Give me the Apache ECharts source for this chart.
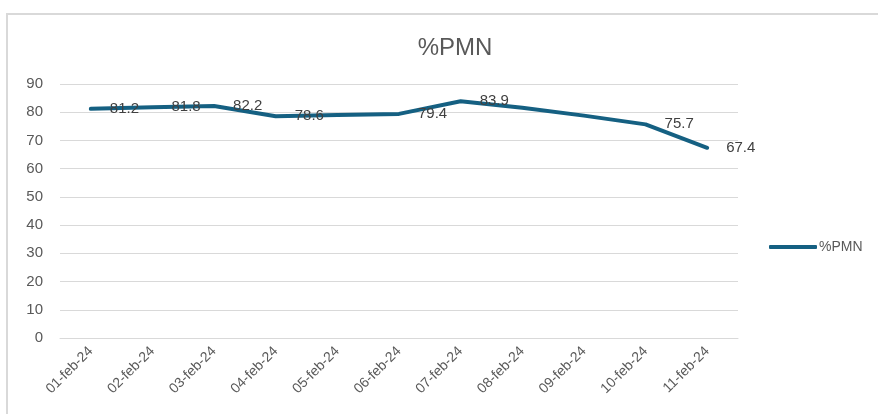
<!DOCTYPE html>
<html>
<head>
<meta charset="utf-8">
<title>%PMN</title>
<script src="https://cdn.jsdelivr.net/npm/echarts@6/dist/echarts.min.js"></script>
<style>
  body { margin: 0; background: #fff; }
  #frame {
    position: absolute; left: 6px; top: 13px; width: 900px; height: 420px;
    border-top: 2px solid #d9d9d9; border-left: 2px solid #d9d9d9;
  }
  #pmn { position: absolute; left: 0; top: 0; width: 878px; height: 414px; }
</style>
</head>
<body>
<div id="frame"></div>
<div id="pmn"></div>
<script type="text/javascript">
  // datos
  var dias = ['01-feb-24', '02-feb-24', '03-feb-24', '04-feb-24', '05-feb-24', '06-feb-24',
              '07-feb-24', '08-feb-24', '09-feb-24', '10-feb-24', '11-feb-24'];
  var pmn = [81.2, 81.8, 82.2, 78.6, 79.0, 79.4, 83.9, 81.6, 78.8, 75.7, 67.4];
  // puntos que llevan etiqueta en el original
  var conEtiqueta = [true, true, true, true, false, true, true, false, false, true, true];
  var yTicks = [0, 10, 20, 30, 40, 50, 60, 70, 80, 90];

  var fuente = '"Liberation Sans", Arial, sans-serif';
  var gris = '#595959';
  var azul = '#156082';

  var myChart = echarts.init(document.getElementById('pmn'));

  var serieData = pmn.map(function (v, i) {
    return { value: v, label: { show: conEtiqueta[i] } };
  });

  var option = {
    animation: false,
    textStyle: { fontFamily: fuente },
    title: {
      text: '%PMN',
      left: 450,
      top: 31,
      textAlign: 'center',
      textStyle: { fontFamily: fuente, fontSize: 24, fontWeight: 'normal', color: gris }
    },
    legend: {
      data: ['%PMN'],
      orient: 'vertical',
      left: 764,
      top: 235,
      icon: 'roundRect',
      itemWidth: 48,
      itemHeight: 4,
      itemGap: 5,
      textStyle: { fontFamily: fuente, fontSize: 14, color: gris, padding: [0, 0, 0, -3] }
    },
    grid: { left: 60, right: 140, top: 84, bottom: 76 },
    xAxis: {
      type: 'category',
      data: dias,
      boundaryGap: true,
      axisLine: { lineStyle: { color: '#d9d9d9', width: 1 } },
      axisTick: { show: false },
      axisLabel: {
        rotate: 45,
        margin: 11,
        interval: 0,
        fontFamily: fuente,
        fontSize: 14,
        color: gris
      }
    },
    yAxis: {
      type: 'value',
      min: yTicks[0],
      max: yTicks[yTicks.length - 1],
      interval: 10,
      axisLine: { show: false },
      axisTick: { show: false },
      splitLine: { lineStyle: { color: '#d9d9d9', width: 1 } },
      axisLabel: { margin: 17, fontFamily: fuente, fontSize: 15, color: gris }
    },
    series: [
      {
        name: '%PMN',
        type: 'line',
        data: serieData,
        symbol: 'circle',
        symbolSize: 2,
        showSymbol: true,
        smooth: false,
        itemStyle: { color: azul },
        lineStyle: { color: azul, width: 4, cap: 'round', join: 'round' },
        label: {
          position: 'right',
          distance: 18,
          fontFamily: fuente,
          fontSize: 15,
          color: '#404040',
          formatter: function (p) { return p.value.toFixed(1); }
        }
      }
    ]
  };
  myChart.setOption(option);
</script>
</body>
</html>
